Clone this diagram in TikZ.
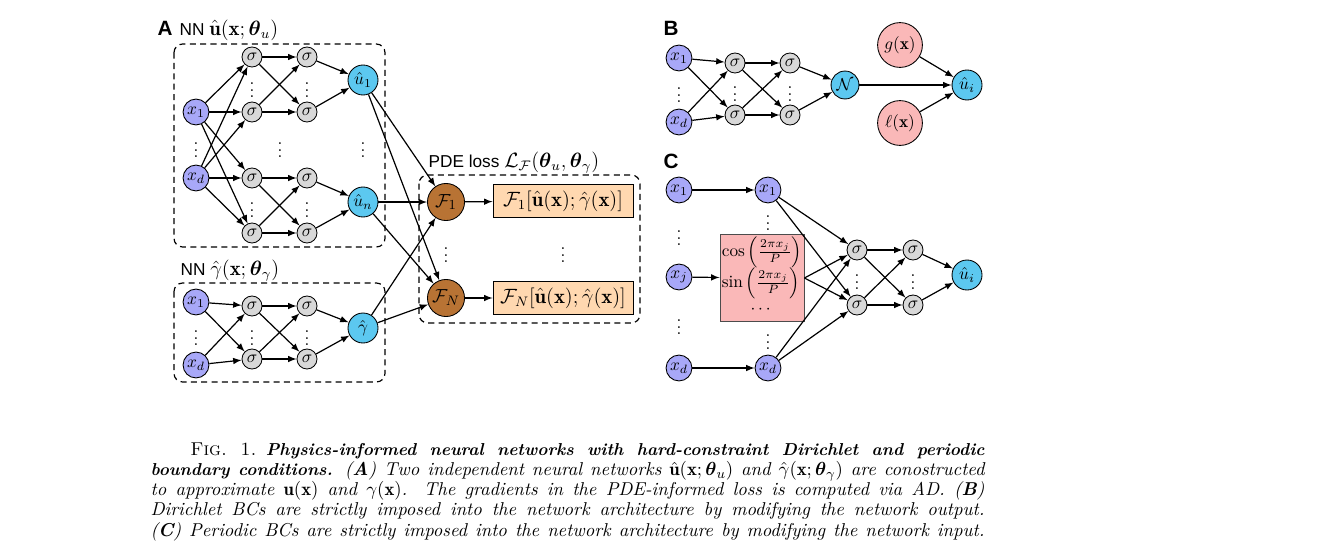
\documentclass[tikz,border=0pt]{standalone}
\usepackage{amsmath}
\usepackage{fontspec}
\setsansfont{Liberation Sans}
\usetikzlibrary{arrows,positioning}

\definecolor{inpc}{RGB}{168,168,248}
\definecolor{actc}{RGB}{216,216,216}
\definecolor{outc}{RGB}{92,200,240}
\definecolor{lossc}{RGB}{184,115,52}
\definecolor{resc}{RGB}{255,216,176}
\definecolor{bcc}{RGB}{250,184,184}

\begin{document}
\begin{tikzpicture}[x=0.58pt,y=-0.58pt,>=latex,line width=0.7pt,node distance=31.9pt,
  inp/.style={circle,draw,line width=0.5pt,fill=inpc,minimum size=15pt,inner sep=0pt},
  act/.style={circle,draw,line width=0.5pt,fill=actc,minimum size=11.6pt,inner sep=0pt},
  outp/.style={circle,draw,line width=0.5pt,fill=outc,minimum size=17.4pt,inner sep=0pt},
  lossnode/.style={circle,draw,line width=0.5pt,fill=lossc,minimum size=21.5pt,inner sep=0pt,font=\fontsize{11}{13}\selectfont},
  resbox/.style={rectangle,draw,line width=0.5pt,fill=resc,minimum width=81.2pt,minimum height=19.1pt,inner sep=0pt,font=\large},
  bcnode/.style={circle,draw,line width=0.5pt,fill=bcc,minimum size=26pt,inner sep=0pt},
  dashbox/.style={dash pattern=on 3.5pt off 2.5pt,rounded corners=5pt},
  panel/.style={font=\sffamily\bfseries\large,anchor=base west,inner sep=0pt},
  title/.style={font=\sffamily,anchor=base west,inner sep=0pt},
  vd/.style={inner sep=0pt}]
\useasboundingbox (0,0) rectangle (1342,550);

\node[panel] (labA) at (157,35) {A};
\node[title] (nnU) at (179,35) {NN {\large$\hat{\mathbf{u}}(\mathbf{x};\boldsymbol{\theta}_u)$}};
\draw[dashbox] (174,44) rectangle (385,247);

\node[inp] (inA1) at (196,112) {$x_1$};
\node[inp] (inAd) at (196,178) {$x_d$};
\node[act] (sA11) at (252,57) {$\sigma$};
\node[act] (sA12) at (252,112) {$\sigma$};
\node[act] (sA13) at (252,178) {$\sigma$};
\node[act] (sA14) at (252,233) {$\sigma$};
\node[act] (sA21) [right of=sA11] {$\sigma$};
\node[act] (sA22) [right of=sA12] {$\sigma$};
\node[act] (sA23) [right of=sA13] {$\sigma$};
\node[act] (sA24) [right of=sA14] {$\sigma$};
\node[outp] (uA1) at (363,80) {$\hat{u}_1$};
\node[outp] (uAn) at (363,202) {$\hat{u}_n$};
\node[vd] (dA1) at (196,145) {$\vdots$};
\node[vd] (dA2) at (252,85) {$\vdots$};
\node[vd] (dA3) at (252,205) {$\vdots$};
\node[vd] (dA4) at (307,85) {$\vdots$};
\node[vd] (dA5) at (307,205) {$\vdots$};
\node[vd] (dA6) at (280,145) {$\vdots$};
\node[vd] (dA7) at (363,145) {$\vdots$};

\path[->] (inA1) edge (sA11) edge (sA12) edge (sA13) edge (sA14);
\path[->] (inAd) edge (sA11) edge (sA12) edge (sA13) edge (sA14);
\path[->] (sA11) edge (sA21) edge (sA22);
\path[->] (sA12) edge (sA21) edge (sA22);
\path[->] (sA13) edge (sA23) edge (sA24);
\path[->] (sA14) edge (sA23) edge (sA24);
\path[->] (sA21) edge (uA1);
\path[->] (sA22) edge (uA1);
\path[->] (sA23) edge (uAn);
\path[->] (sA24) edge (uAn);

\node[title] (nnG) at (180,275) {NN {\large$\hat{\gamma}(\mathbf{x};\boldsymbol{\theta}_\gamma)$}};
\draw[dashbox] (174,283) rectangle (385,382);

\node[inp] (inG1) at (196,302) {$x_1$};
\node[inp] (inGd) at (196,365) {$x_d$};
\node[act] (sG11) at (252,306) {$\sigma$};
\node[act] (sG12) at (252,359) {$\sigma$};
\node[act] (sG21) [right of=sG11] {$\sigma$};
\node[act] (sG22) [right of=sG12] {$\sigma$};
\node[outp] (gamA) at (363,328) {$\hat{\gamma}$};
\node[vd] (dG1) at (196,333) {$\vdots$};
\node[vd] (dG2) at (252,333) {$\vdots$};
\node[vd] (dG3) at (307,333) {$\vdots$};

\path[->] (inG1) edge (sG11) edge (sG12);
\path[->] (inGd) edge (sG11) edge (sG12);
\path[->] (sG11) edge (sG21) edge (sG22);
\path[->] (sG12) edge (sG21) edge (sG22);
\path[->] (sG21) edge (gamA);
\path[->] (sG22) edge (gamA);

\node[title] (pdeL) at (428,167) {PDE loss {\large$\mathcal{L}_{\mathcal{F}}(\boldsymbol{\theta}_u,\boldsymbol{\theta}_\gamma)$}};
\draw[dashbox] (419,175) rectangle (640,323);

\node[lossnode] (lossF1) at (446,202) {$\mathcal{F}_1$};
\node[lossnode] (lossFN) at (446,298) {$\mathcal{F}_N$};
\node[resbox] (resF1) at (563,201) {$\mathcal{F}_1[\hat{\mathbf{u}}(\mathbf{x});\hat{\gamma}(\mathbf{x})]$};
\node[resbox] (resFN) at (563,298) {$\mathcal{F}_N[\hat{\mathbf{u}}(\mathbf{x});\hat{\gamma}(\mathbf{x})]$};
\node[vd] (dL1) at (446,250) {$\vdots$};
\node[vd] (dL2) at (563,250) {$\vdots$};

\path[->] (uA1) edge (lossF1) edge (lossFN);
\path[->] (uAn) edge (lossF1) edge (lossFN);
\path[->] (gamA) edge (lossF1) edge (lossFN);
\path[->] (lossF1) edge (resF1);
\path[->] (lossFN) edge (resFN);

\node[panel] (labB) at (663,35) {B};
\node[inp] (inB1) at (679,58) {$x_1$};
\node[inp] (inBd) at (679,122) {$x_d$};
\node[act] (sB11) at (735,63) {$\sigma$};
\node[act] (sB12) at (735,115) {$\sigma$};
\node[act] (sB21) at (790,63) {$\sigma$};
\node[act] (sB22) at (790,115) {$\sigma$};
\node[outp,minimum size=16.2pt] (netB) at (845,85) {$\mathcal{N}$};
\node[bcnode] (gB) at (900,45) {$g(\mathbf{x})$};
\node[bcnode] (lB) at (900,123) {$\ell(\mathbf{x})$};
\node[outp] (uB) at (967,85) {$\hat{u}_i$};
\node[vd] (dB1) at (679,90) {$\vdots$};
\node[vd] (dB2) at (735,89) {$\vdots$};
\node[vd] (dB3) at (790,89) {$\vdots$};

\path[->] (inB1) edge (sB11) edge (sB12);
\path[->] (inBd) edge (sB11) edge (sB12);
\path[->] (sB11) edge (sB21) edge (sB22);
\path[->] (sB12) edge (sB21) edge (sB22);
\path[->] (sB21) edge (netB);
\path[->] (sB22) edge (netB);
\path[->] (netB) edge (uB);
\path[->] (gB) edge (uB);
\path[->] (lB) edge (uB);

\node[panel] (labC) at (663,168) {C};
\node[inp] (inC1) at (679,190) {$x_1$};
\node[inp] (inCj) at (679,277) {$x_j$};
\node[inp] (inCd) at (679,368) {$x_d$};
\node[inp] (outC1) at (768,190) {$x_1$};
\node[inp] (outCd) at (768,368) {$x_d$};
\node[rectangle,draw=black!70,line width=0.5pt,fill=bcc,minimum width=48.7pt,minimum height=44pt,inner sep=1pt] (perC) at (762,278)
  {$\begin{array}{@{}l@{}}\cos\left(\frac{2\pi x_j}{P}\right)\\ \sin\left(\frac{2\pi x_j}{P}\right)\\ \multicolumn{1}{c}{\cdots}\end{array}$};
\node[act] (sC11) at (857,250) {$\sigma$};
\node[act] (sC12) at (857,305) {$\sigma$};
\node[act] (sC21) at (913,250) {$\sigma$};
\node[act] (sC22) at (913,305) {$\sigma$};
\node[outp] (uC) at (967,275) {$\hat{u}_i$};
\node[vd] (dC1) at (679,233) {$\vdots$};
\node[vd] (dC2) at (679,322) {$\vdots$};
\node[vd] (dC3) at (768,218) {$\vdots$};
\node[vd] (dC4) at (768,337) {$\vdots$};
\node[vd] (dC5) at (857,277) {$\vdots$};
\node[vd] (dC6) at (913,277) {$\vdots$};

\path[->] (inC1) edge (outC1);
\path[->] (inCj) edge (perC);
\path[->] (inCd) edge (outCd);
\path[->] (outC1) edge (sC11) edge (sC12);
\path[->] (perC.east) edge (sC11) edge (sC12);
\path[->] (outCd) edge (sC11) edge (sC12);
\path[->] (sC11) edge (sC21) edge (sC22);
\path[->] (sC12) edge (sC21) edge (sC22);
\path[->] (sC21) edge (uC);
\path[->] (sC22) edge (uC);

\node[anchor=base west,inner sep=0pt,text width=483.7pt,align=justify,font=\fontsize{10.8}{11.75}\selectfont] (capt) at (150,455)
  {\hspace*{23pt}\textsc{Fig.~1.}\enspace{\fontsize{10}{11.75}\selectfont\textbf{\textit{Physics-informed neural networks with hard-constraint Dirichlet and periodic\linebreak boundary conditions.}}} \textit{(\textbf{A}) Two independent neural networks $\hat{\mathbf{u}}(\mathbf{x};\boldsymbol{\theta}_u)$ and $\hat{\gamma}(\mathbf{x};\boldsymbol{\theta}_\gamma)$ are conostructed\linebreak to approximate $\mathbf{u}(\mathbf{x})$ and $\gamma(\mathbf{x})$. The gradients in the PDE-informed loss is computed via AD. (\textbf{B})\linebreak Dirichlet BCs are strictly imposed into the network architecture by modifying the network output.\linebreak (\textbf{C}) Periodic BCs are strictly imposed into the network architecture by modifying the network input.}\parfillskip=0pt\par};
\end{tikzpicture}
\end{document}
